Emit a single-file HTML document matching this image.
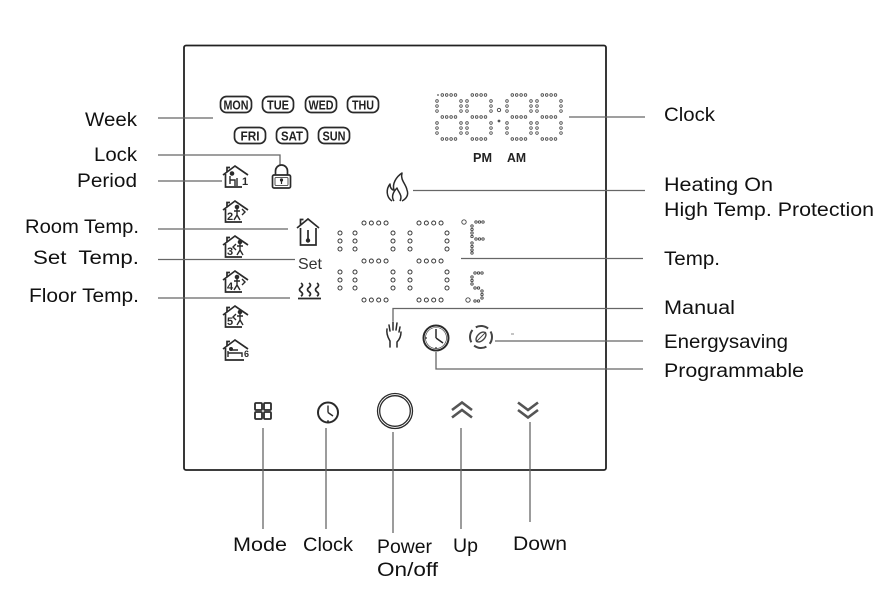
<!DOCTYPE html>
<html><head><meta charset="utf-8"><style>
html,body{margin:0;padding:0;background:#fff;}
svg{display:block;}
.lbl{font-family:"Liberation Sans",sans-serif;font-size:19px;fill:#111;}
.day{font-family:"Liberation Sans",sans-serif;font-weight:bold;font-size:13px;fill:#222;}
</style></head><body>
<svg width="882" height="592" viewBox="0 0 882 592" xmlns="http://www.w3.org/2000/svg">
<defs>
<path id="cr" d="M442.3 95h13.25M442.3 117h13.25M442.3 139h13.25M472.3 95h13.25M472.3 117h13.25M472.3 139h13.25M512.3 95h13.25M512.3 117h13.25M512.3 139h13.25M542.3 95h13.25M542.3 117h13.25M542.3 139h13.25"/>
<path id="cc" d="M437 101v10.1M461 101v10.1M437 123v10.1M461 123v10.1M467 101v10.1M491 101v10.1M467 123v10.1M491 123v10.1M507 101v10.1M531 101v10.1M507 123v10.1M531 123v10.1M537 101v10.1M561 101v10.1M537 123v10.1M561 123v10.1"/>
<path id="tr" d="M364 223h22.15M364 261h22.15M364 300h22.15M419 223h22.15M419 261h22.15M419 300h22.15"/>
<path id="tc" d="M340 233v16.1M340 272v16.1M355 233v16.1M355 272v16.1M393 233v16.1M393 272v16.1M410 233v16.1M410 272v16.1M447 233v16.1M447 272v16.1"/>
</defs>

<!-- device box -->
<rect x="184" y="45.5" width="422" height="424.5" rx="2" fill="none" stroke="#222" stroke-width="1.8"/>

<!-- connectors -->
<g stroke="#666" stroke-width="1.3" fill="none">
<path d="M158 118H213"/>
<path d="M158 155H280V165"/>
<path d="M158 181H222"/>
<path d="M158 229H288"/>
<path d="M158 259.5H295"/>
<path d="M158 298H290"/>
<path d="M569 117H645"/>
<path d="M413 190.5H645"/>
<path d="M461 258.5H643"/>
<path d="M393 321V308.5H643"/>
<path d="M495 341H643"/>
<path d="M436 352V369H643"/>
<path d="M263 428V529"/>
<path d="M326 428V529"/>
<path d="M393 432V533"/>
<path d="M461 428V529"/>
<path d="M530 422V522"/>
</g>
<path d="M511 334h3" stroke="#888" stroke-width="1"/>

<!-- labels left -->
<g class="lbl" text-anchor="end">
<text x="137" y="126" textLength="52" lengthAdjust="spacingAndGlyphs">Week</text>
<text x="137" y="161" textLength="43" lengthAdjust="spacingAndGlyphs">Lock</text>
<text x="137" y="187" textLength="60" lengthAdjust="spacingAndGlyphs">Period</text>
<text x="139" y="233" textLength="114" lengthAdjust="spacingAndGlyphs">Room Temp.</text>
<text x="139" y="264" textLength="106" lengthAdjust="spacingAndGlyphs" style="white-space:pre">Set  Temp.</text>
<text x="139" y="302" textLength="110" lengthAdjust="spacingAndGlyphs">Floor Temp.</text>
</g>
<!-- labels right -->
<g class="lbl">
<text x="664" y="121" textLength="51" lengthAdjust="spacingAndGlyphs">Clock</text>
<text x="664" y="191" textLength="109" lengthAdjust="spacingAndGlyphs">Heating On</text>
<text x="664" y="216" textLength="210" lengthAdjust="spacingAndGlyphs">High Temp. Protection</text>
<text x="664" y="265" textLength="56" lengthAdjust="spacingAndGlyphs">Temp.</text>
<text x="664" y="314" textLength="71" lengthAdjust="spacingAndGlyphs">Manual</text>
<text x="664" y="348" textLength="124" lengthAdjust="spacingAndGlyphs">Energysaving</text>
<text x="664" y="377" textLength="140" lengthAdjust="spacingAndGlyphs">Programmable</text>
</g>
<!-- labels bottom -->
<g class="lbl">
<text x="233" y="551" textLength="54" lengthAdjust="spacingAndGlyphs">Mode</text>
<text x="303" y="551" textLength="50" lengthAdjust="spacingAndGlyphs">Clock</text>
<text x="377" y="553" textLength="55" lengthAdjust="spacingAndGlyphs">Power</text>
<text x="377" y="576" textLength="61" lengthAdjust="spacingAndGlyphs">On/off</text>
<text x="453" y="552" textLength="25" lengthAdjust="spacingAndGlyphs">Up</text>
<text x="513" y="550" textLength="54" lengthAdjust="spacingAndGlyphs">Down</text>
</g>

<!-- day badges -->
<g fill="none" stroke="#2a2a2a" stroke-width="1.7">
<rect x="220.5" y="96.5" width="31" height="16" rx="6"/>
<rect x="262.5" y="96.5" width="31" height="16" rx="6"/>
<rect x="305.5" y="96.5" width="31" height="16" rx="6"/>
<rect x="347.5" y="96.5" width="31" height="16" rx="6"/>
<rect x="234.5" y="127.5" width="31" height="16" rx="6"/>
<rect x="276.5" y="127.5" width="31" height="16" rx="6"/>
<rect x="318.5" y="127.5" width="31" height="16" rx="6"/>
</g>
<g class="day" text-anchor="middle">
<text x="236" y="109.5" textLength="25" lengthAdjust="spacingAndGlyphs">MON</text>
<text x="278" y="109.5" textLength="22" lengthAdjust="spacingAndGlyphs">TUE</text>
<text x="321" y="109.5" textLength="25" lengthAdjust="spacingAndGlyphs">WED</text>
<text x="363" y="109.5" textLength="22" lengthAdjust="spacingAndGlyphs">THU</text>
<text x="250" y="140.5" textLength="19" lengthAdjust="spacingAndGlyphs">FRI</text>
<text x="292" y="140.5" textLength="22" lengthAdjust="spacingAndGlyphs">SAT</text>
<text x="334" y="140.5" textLength="23" lengthAdjust="spacingAndGlyphs">SUN</text>
</g>

<!-- clock digits -->
<g fill="none" stroke-linecap="round">
<use href="#cr" stroke="#444" stroke-width="3.4" stroke-dasharray="0 4.4"/>
<use href="#cr" stroke="#fff" stroke-width="1.8" stroke-dasharray="0 4.4"/>
<use href="#cc" stroke="#444" stroke-width="3.4" stroke-dasharray="0 5.02"/>
<use href="#cc" stroke="#fff" stroke-width="1.8" stroke-dasharray="0 5.02"/>
</g>
<circle cx="499" cy="110" r="1.7" fill="none" stroke="#444" stroke-width="0.9"/>
<circle cx="499" cy="121" r="1.4" fill="#555"/>
<circle cx="438" cy="95" r="0.9" fill="#555"/>
<g class="day" font-size="12">
<text x="473" y="162" textLength="19" lengthAdjust="spacingAndGlyphs">PM</text>
<text x="507" y="162" textLength="19" lengthAdjust="spacingAndGlyphs">AM</text>
</g>

<!-- temperature digits -->
<g fill="none" stroke-linecap="round">
<use href="#tr" stroke="#333" stroke-width="5" stroke-dasharray="0 7.35"/>
<use href="#tr" stroke="#fff" stroke-width="3.1" stroke-dasharray="0 7.35"/>
<use href="#tc" stroke="#333" stroke-width="5" stroke-dasharray="0 8.0"/>
<use href="#tc" stroke="#fff" stroke-width="3.1" stroke-dasharray="0 8.0"/>
</g>
<!-- F / C -->
<g fill="none" stroke="#444" stroke-width="0.9">
<circle cx="464" cy="222" r="2.2"/>
<circle cx="476" cy="222" r="1.2"/><circle cx="479.5" cy="222" r="1.2"/><circle cx="483" cy="222" r="1.2"/>
<circle cx="472" cy="226" r="1.2"/><circle cx="472" cy="229.5" r="1.2"/><circle cx="472" cy="233" r="1.2"/><circle cx="472" cy="236.5" r="1.2"/>
<circle cx="476" cy="239" r="1.2"/><circle cx="479.5" cy="239" r="1.2"/><circle cx="483" cy="239" r="1.2"/>
<circle cx="472" cy="243" r="1.2"/><circle cx="472" cy="246.5" r="1.2"/><circle cx="472" cy="250" r="1.2"/><circle cx="472" cy="253" r="1.2"/>
<circle cx="475" cy="273" r="1.2"/><circle cx="478.5" cy="273" r="1.2"/><circle cx="482" cy="273" r="1.2"/>
<circle cx="472" cy="277" r="1.2"/><circle cx="472" cy="280.5" r="1.2"/><circle cx="472" cy="284" r="1.2"/>
<circle cx="475" cy="288" r="1.2"/><circle cx="478.5" cy="288" r="1.2"/>
<circle cx="482" cy="291" r="1.2"/><circle cx="482" cy="294.5" r="1.2"/><circle cx="482" cy="298" r="1.2"/>
<circle cx="475" cy="301" r="1.2"/><circle cx="478.5" cy="301" r="1.2"/>
<circle cx="468" cy="300" r="2.2"/>
</g>

<!-- lock -->
<g fill="none" stroke="#2a2a2a" stroke-width="1.7">
<path d="M275.5 175V171a6 6 0 0 1 12 0V175"/>
<rect x="272.5" y="175" width="18" height="13" rx="1.5"/>
<rect x="275" y="177.5" width="13" height="8" rx="1" stroke-width="0.8"/>
</g>
<circle cx="281.5" cy="180" r="1.6" fill="#2a2a2a"/>
<path d="M281.5 180V184" stroke="#2a2a2a" stroke-width="1.2"/>

<!-- period houses -->
<g fill="none" stroke="#2a2a2a" stroke-width="1.7">
<g transform="translate(223,165)"><polyline points="0,10 12,1 25,10"/><path d="M4 7V2.5H7"/><polyline points="2.5,9 2.5,22 19,22"/></g>
<g transform="translate(223,200)"><polyline points="0,10 12,1 25,10"/><path d="M4 7V2.5H7"/><polyline points="2.5,9 2.5,22 19,22"/></g>
<g transform="translate(223,235)"><polyline points="0,10 12,1 25,10"/><path d="M4 7V2.5H7"/><polyline points="2.5,9 2.5,22 19,22"/></g>
<g transform="translate(223,270)"><polyline points="0,10 12,1 25,10"/><path d="M4 7V2.5H7"/><polyline points="2.5,9 2.5,22 19,22"/></g>
<g transform="translate(223,305)"><polyline points="0,10 12,1 25,10"/><path d="M4 7V2.5H7"/><polyline points="2.5,9 2.5,22 19,22"/></g>
<g transform="translate(223,339)"><polyline points="0,10 12,1 25,10"/><path d="M4 7V2.5H7"/><polyline points="2.5,9 2.5,21 21,21"/></g>
</g>
<g font-family="Liberation Sans,sans-serif" font-weight="bold" font-size="11" fill="#2a2a2a">
<text x="242" y="185">1</text>
<text x="227" y="220">2</text>
<text x="227" y="255">3</text>
<text x="227" y="290">4</text>
<text x="227" y="325">5</text>
<text x="244" y="357" font-size="9">6</text>
</g>
<g fill="#2a2a2a" stroke="#2a2a2a" stroke-width="1.4">
<circle cx="232" cy="173.5" r="1.6"/><path d="M230 176V184M230 180H235V186M237 178V186" fill="none"/>
<g fill="none"><circle cx="237" cy="207" r="1.6" fill="#2a2a2a"/><path d="M237 209V215L234 220M237 215L240 220M234 211H240M242 209L245 212L242 215"/></g>
<g fill="none"><circle cx="240" cy="242" r="1.6" fill="#2a2a2a"/><path d="M240 244V250L237 255M240 250L243 255M237 246H243M236 244L233 247L236 250"/></g>
<g fill="none"><circle cx="237" cy="277" r="1.6" fill="#2a2a2a"/><path d="M237 279V285L234 290M237 285L240 290M234 281H240M242 279L245 282L242 285"/></g>
<g fill="none"><circle cx="240" cy="312" r="1.6" fill="#2a2a2a"/><path d="M240 314V320L237 325M240 320L243 325M237 316H243M236 314L233 317L236 320"/></g>
<g fill="none"><path d="M228 353H242V357M228 357V351M231 350H238"/><circle cx="231" cy="349" r="1.3" fill="#2a2a2a"/></g>
</g>

<!-- flame -->
<g fill="none" stroke="#2a2a2a" stroke-width="1.5" stroke-linejoin="round">
<path d="M392 201C386 197 386 189 390 184C390 188 392 190 394 190C392 184 396 177 402 173C400 180 406 184 407 190C409 195 406 199 402 201"/>
<path d="M394 201C391 197 393 192 397 188C398 192 403 195 400 201"/>
</g>

<!-- room temp house -->
<g fill="none" stroke="#2a2a2a" stroke-width="1.7">
<polyline points="297,228 308,219 319,228"/>
<path d="M300.5 225V219.5H303.5"/>
<polyline points="300.5,228 300.5,245 316,245 316,228"/>
<path d="M308 230V239"/>
</g>
<circle cx="308" cy="240.5" r="2.2" fill="#2a2a2a"/>
<text x="298" y="269" font-family="Liberation Sans,sans-serif" font-size="16" fill="#333" textLength="24" lengthAdjust="spacingAndGlyphs">Set</text>
<!-- floor heat -->
<g fill="none" stroke="#2a2a2a" stroke-width="1.7">
<path d="M301 283q3 2.2 0 4.4q-3 2.2 0 4.4q3 2.2 0 4.4"/>
<path d="M309 283q3 2.2 0 4.4q-3 2.2 0 4.4q3 2.2 0 4.4"/>
<path d="M317 283q3 2.2 0 4.4q-3 2.2 0 4.4q3 2.2 0 4.4"/>
<path d="M298 298.5H321"/>
</g>

<!-- manual hand -->
<g fill="none" stroke="#2a2a2a" stroke-width="1.5" stroke-linecap="round">
<path d="M390 331L389 325M393 330L393 322M396 330L397 323M399 332L400 327"/>
<path d="M387 329C386 335 389 339 390 341V347M401 332C401 337 399 340 397 342V347"/>
</g>
<!-- programmable clock -->
<g fill="none" stroke="#2a2a2a">
<circle cx="436" cy="338" r="12.5" stroke-width="2"/>
<circle cx="436" cy="338" r="10.5" stroke-width="0.6"/>
<path d="M436 338V329M436 338L443 343" stroke-width="1.5"/>
</g>
<circle cx="436" cy="348" r="0.9" fill="#2a2a2a"/>
<circle cx="426" cy="338" r="0.9" fill="#2a2a2a"/>
<!-- energy saving -->
<g fill="none" stroke="#444">
<circle cx="481" cy="337" r="11" stroke-width="2" stroke-dasharray="13 4.28" transform="rotate(-30 481 337)"/>
<ellipse cx="481" cy="337" rx="6" ry="3.6" stroke-width="1.4" transform="rotate(-45 481 337)"/>
<path d="M476 342L486 332" stroke-width="0.9"/>
</g>

<!-- buttons -->
<g fill="none" stroke="#2a2a2a" stroke-width="1.8">
<rect x="255" y="403" width="7" height="7" rx="1"/>
<rect x="264" y="403" width="7" height="7" rx="1"/>
<rect x="255" y="412" width="7" height="7" rx="1"/>
<rect x="264" y="412" width="7" height="7" rx="1"/>
<circle cx="328" cy="412.5" r="10" stroke-width="2"/>
<path d="M328 412.5V405.5M328 412.5L333 416" stroke-width="1.4"/>
<circle cx="395" cy="411" r="17.5" stroke-width="1.3"/>
<circle cx="395" cy="411" r="15.3" stroke-width="1.3"/>
</g>
<circle cx="328" cy="421" r="0.9" fill="#2a2a2a"/>
<g fill="none" stroke="#555" stroke-width="2.6" stroke-linejoin="miter">
<polyline points="452,410 462,402.5 472,410"/>
<polyline points="452,417.5 462,410 472,417.5"/>
<polyline points="518,402.5 528,410 538,402.5"/>
<polyline points="518,410 528,417.5 538,410"/>
</g>
</svg>
</body></html>
